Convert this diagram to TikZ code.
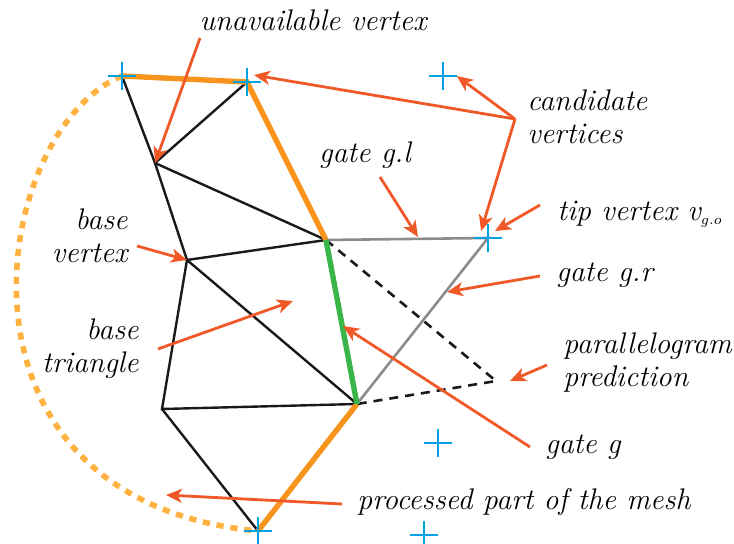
\documentclass[tikz,border=0pt]{standalone}
\usepackage{xcolor}
\usepackage{tikz}
\usetikzlibrary{arrows.meta, shapes.misc}
\definecolor{vtxcyan}{RGB}{0, 163, 224}
\definecolor{meshorange}{RGB}{247, 148, 29}
\definecolor{arcorange}{RGB}{255, 178, 64}
\definecolor{gategreen}{RGB}{57, 181, 74}
\definecolor{noteorange}{RGB}{240, 88, 40}
\definecolor{gategray}{RGB}{140, 140, 140}

\begin{document}
\begin{tikzpicture}[
				x=0.5pt, y=-0.5pt,
				cand/.style={cross out, draw=vtxcyan, line width=1.4pt, minimum size=8.4pt, inner sep=0pt, rotate=45},
				meshedge/.style={draw=black!90, line width=1.2pt},
				border/.style={draw=meshorange, line width=2.7pt},
				gateedge/.style={draw=gategreen, line width=2.7pt},
				sideedge/.style={draw=gategray, line width=1.3pt},
				predict/.style={draw=black!90, line width=1.3pt, dash pattern=on 4.5pt off 3.5pt},
				processed/.style={draw=arcorange, line width=2.8pt, dash pattern=on 3.6pt off 3.4pt},
				note/.style={font=\fontsize{14.9}{16.5}\selectfont\itshape, inner sep=0pt},
				arrow/.style={-{Stealth[length=8pt, width=7pt, inset=2.2pt]}, draw=noteorange, line width=1.4pt}
				]
				\useasboundingbox (0,0) rectangle (734,544);
				
				% mesh vertices
				\coordinate (p1) at (155,163);
				\coordinate (p2) at (187,260);
				\coordinate (q) at (326,240);
				\coordinate (r) at (357,404);
				\coordinate (s) at (162,409);
				\coordinate (w) at (496,381);
				
				% candidate vertices
				\node[cand] (a) at (122,76) {};
				\node[cand] (b) at (247,82) {};
				\node[cand] (c) at (443,76) {};
				\node[cand] (t) at (488,238) {};
				\node[cand] (d) at (438,443) {};
				\node[cand] (e) at (258,531) {};
				\node[cand] (f) at (424,535) {};
				
				% processed part
				\draw[processed] (a.center) .. controls (-10,130) and (-70,500) .. (e.center);
				
				% mesh
				\draw[meshedge] (a.center) -- (p1) -- (b.center);
				\draw[meshedge] (p1) -- (q);
				\draw[meshedge] (p1) -- (p2) -- (q);
				\draw[meshedge] (p2) -- (r) -- (s) -- (p2);
				\draw[meshedge] (s) -- (e.center);
				\draw[predict] (q) -- (w) -- (r);
				\draw[sideedge] (q) -- (t.center) -- (r);
				\draw[border] (a.center) -- (b.center) -- (q);
				\draw[border] (r) -- (e.center);
				\draw[gateedge] (q) -- (r);
				\node[cand] at (a) {};
				\node[cand] at (b) {};
				\node[cand] at (t) {};
				\node[cand] at (e) {};
				
				% labels
				\node[note] (unavail) at (313,20) {unavailable vertex};
				\node[note, anchor=west, align=left] (candv) at (527,117) {candidate\\vertices};
				\node[note] (gatel) at (365,155) {gate g.l};
				\node[note, anchor=west] (tipv) at (557,214) {tip vertex v$_{\scriptscriptstyle g.o}$};
				\node[note, anchor=west] (gater) at (556,275) {gate g.r};
				\node[note, anchor=west, align=left] (para) at (563,363) {parallelogram\\prediction};
				\node[note, anchor=west] (gateg) at (545,447) {gate g};
				\node[note, anchor=east, align=right] (basev) at (128,236) {base\\vertex};
				\node[note, anchor=east, align=right] (baset) at (139,349) {base\\triangle};
				\node[note, anchor=west] (proc) at (357,502) {processed part of the mesh};
				
				% pointers
				\coordinate (unavailtail) at (200,38);
				\coordinate (candtail) at (515,119);
				\coordinate (gateltail) at (380,177);
				\coordinate (gatelhead) at (418,237);
				\coordinate (tiptail) at (540,205);
				\coordinate (gatertail) at (540,276);
				\coordinate (gaterhead) at (447,292);
				\coordinate (paratail) at (547,365);
				\coordinate (parahead) at (510,381);
				\coordinate (gategtail) at (530,447);
				\coordinate (gateghead) at (343,326);
				\coordinate (basevtail) at (137,246);
				\coordinate (basettail) at (158,349);
				\coordinate (basethead) at (293,301);
				\coordinate (proctail) at (342,504);
				\coordinate (prochead) at (166,495);
				
				\draw[arrow] (unavailtail) -- (p1);
				\draw[arrow] (candtail) -- (b.east);
				\draw[arrow] (candtail) -- (c.south east);
				\draw[arrow] (candtail) -- (t.north);
				\draw[arrow] (tiptail) -- (t.east);
				\draw[arrow] (gateltail) -- (gatelhead);
				\draw[arrow] (gatertail) -- (gaterhead);
				\draw[arrow] (paratail) -- (parahead);
				\draw[arrow] (gategtail) -- (gateghead);
				\draw[arrow] (basevtail) -- (p2);
				\draw[arrow] (basettail) -- (basethead);
				\draw[arrow] (proctail) -- (prochead);
			\end{tikzpicture}
\end{document}
